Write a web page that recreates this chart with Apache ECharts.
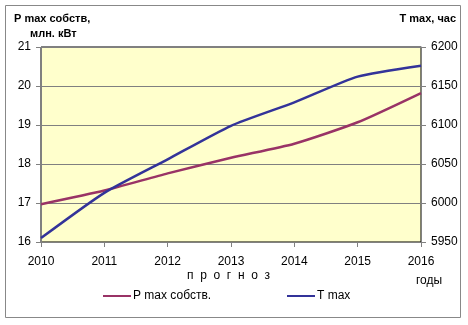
<!DOCTYPE html>
<html>
<head>
<meta charset="utf-8">
<script src="https://cdn.jsdelivr.net/npm/echarts@6/dist/echarts.min.js"></script>
<style>
html,body{margin:0;padding:0;background:#fff;}
#chart{width:468px;height:325px;}
</style>
</head>
<body>
<div id="chart"></div>
<script>
// Years on the horizontal axis
const years = ['2010', '2011', '2012', '2013', '2014', '2015', '2016'];
// Own peak capacity, млн. кВт (left axis)
const pMax = [16.97, 17.32, 17.76, 18.16, 18.52, 19.07, 19.82];
// Peak utilisation hours, час (right axis)
const tMax = [5955, 6013, 6056, 6099, 6129, 6162, 6176];

const FONT = 'Liberation Sans';
const GRAY = '#808080';
const RED = '#993366';
const BLUE = '#333399';

const chart = echarts.init(document.getElementById('chart'), null, { renderer: 'canvas' });

const legendBase = {
  top: 290,
  itemWidth: 28,
  itemHeight: 2,
  itemGap: 0,
  icon: 'rect',
  padding: 0,
  textStyle: { fontFamily: FONT, fontSize: 12, color: '#000', padding: [0, 0, 0, -3] }
};

chart.setOption({
  animation: false,
  backgroundColor: '#fff',
  textStyle: { fontFamily: FONT },
  grid: {
    left: 41, right: 47, top: 47, bottom: 83,
    show: true,
    backgroundColor: '#FFFFCC',
    borderColor: '#000',
    borderWidth: 1
  },
  graphic: [
    {
      type: 'rect',
      shape: { x: 5.5, y: 5.5, width: 455, height: 312 },
      style: { fill: 'none', stroke: '#888', lineWidth: 1 },
      z: -1
    },
    {
      type: 'text', left: 14, top: 13,
      style: { text: 'P max собств,', font: 'bold 11px ' + FONT, fill: '#000' }
    },
    {
      type: 'text', left: 30, top: 28,
      style: { text: 'млн. кВт', font: 'bold 11px ' + FONT, fill: '#000' }
    },
    {
      type: 'text', right: 12, top: 13,
      style: { text: 'T max, час', font: 'bold 11px ' + FONT, fill: '#000' }
    },
    {
      type: 'text', left: 187, top: 270,
      style: { text: 'п  р  о  г  н  о  з', font: '12px ' + FONT, fill: '#000' }
    },
    {
      type: 'text', left: 416, top: 275,
      style: { text: 'годы', font: '12px ' + FONT, fill: '#000' }
    }
  ],
  legend: [
    Object.assign({}, legendBase, { left: 103, data: ['P max собств.'] }),
    Object.assign({}, legendBase, { left: 287, data: ['T max'] })
  ],
  xAxis: {
    type: 'category',
    data: years,
    boundaryGap: false,
    axisLine: { lineStyle: { color: GRAY, width: 1 } },
    axisTick: { show: true, length: 5, alignWithLabel: true, lineStyle: { color: GRAY } },
    axisLabel: { color: '#000', fontSize: 12, fontFamily: FONT, margin: 14 },
    splitLine: { show: false }
  },
  yAxis: [
    {
      type: 'value',
      min: 16, max: 21, interval: 1,
      axisLine: { show: true, lineStyle: { color: GRAY } },
      axisTick: { show: true, length: 5, lineStyle: { color: GRAY } },
      axisLabel: { color: '#000', fontSize: 12, fontFamily: FONT, margin: 10 },
      splitLine: { show: true, lineStyle: { color: GRAY, width: 1 } }
    },
    {
      type: 'value',
      min: 5950, max: 6200, interval: 50,
      axisLine: { show: true, lineStyle: { color: GRAY } },
      axisTick: { show: true, length: 5, lineStyle: { color: GRAY } },
      axisLabel: {
        color: '#000', fontSize: 12, fontFamily: FONT, margin: 10,
        formatter: v => String(v)
      },
      splitLine: { show: false }
    }
  ],
  series: [
    {
      name: 'P max собств.',
      type: 'line',
      yAxisIndex: 0,
      data: pMax,
      smooth: 0.2,
      showSymbol: false,
      lineStyle: { color: RED, width: 2.5 },
      itemStyle: { color: RED }
    },
    {
      name: 'T max',
      type: 'line',
      yAxisIndex: 1,
      data: tMax,
      smooth: 0.2,
      showSymbol: false,
      lineStyle: { color: BLUE, width: 2.5 },
      itemStyle: { color: BLUE }
    }
  ]
});
</script>
</body>
</html>
